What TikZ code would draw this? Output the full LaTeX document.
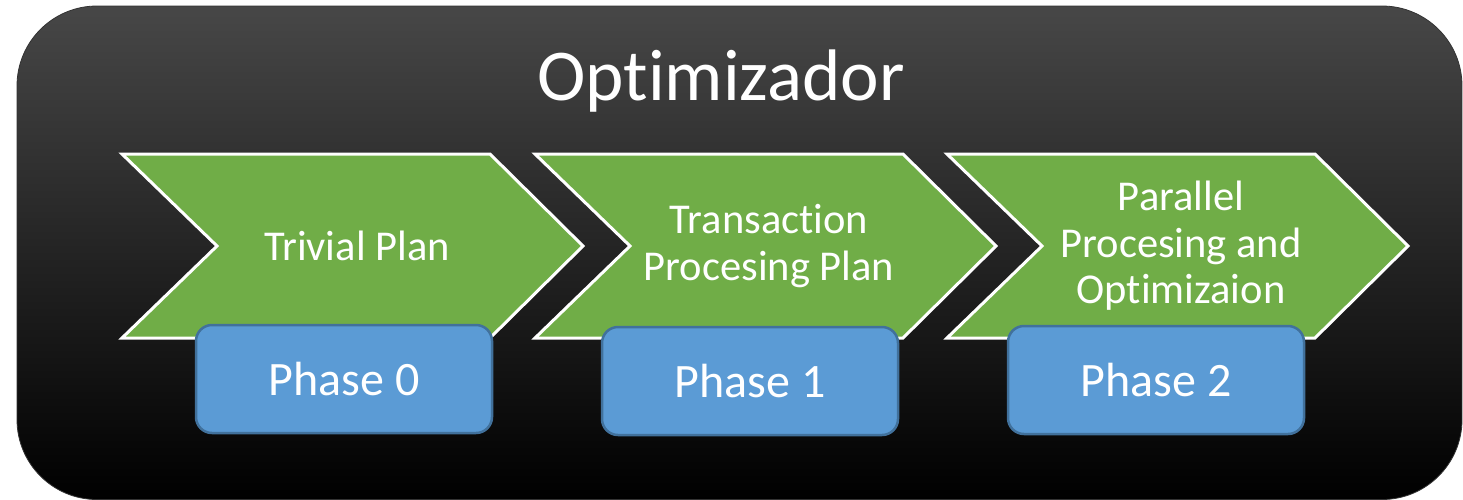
\documentclass[tikz,border=0pt]{standalone}
\usepackage{fontspec}
\setmainfont{Carlito}[Ligatures=NoCommon]
\definecolor{chevgreen}{HTML}{70AD47}
\definecolor{phaseblue}{HTML}{5B9BD5}
\definecolor{phaseedge}{HTML}{41719C}
\definecolor{paneltop}{HTML}{474747}
\begin{document}
\begin{tikzpicture}[x=1pt,y=-1pt,
  chevron/.style={fill=chevgreen,draw=white,line width=3pt,line join=miter},
  chevtext/.style={text=white,font=\fontsize{42.5}{46.5}\selectfont,align=center},
  phasebox/.style={fill=phaseblue,draw=phaseedge,line width=2.5pt,rounded corners=16pt,
    minimum width=296pt,minimum height=108pt,inner sep=0pt,text=white,
    font=\fontsize{48}{52}\selectfont},
  title/.style={text=white,font=\fontsize{73}{80}\selectfont}]
\useasboundingbox (0,0) rectangle (1463,499);
\fill[white] (0,0) rectangle (1463,499);
% dark panel with a soft gradient at the top
\path[draw=black!80,line width=0.8pt,rounded corners=80pt,
  top color=paneltop,middle color=black,bottom color=black]
  (17,6) rectangle (1462,499.5);
\node[title,anchor=base] (title) at (721,100) {Optimizador};
% process chevrons
\foreach \L/\n in {122/a,535/b,947/c}{
  \draw[chevron] (\L,154) -- ++(368,0) -- ++(93,92) -- ++(-93,92) -- ++(-368,0)
    -- ++(95,-92) -- cycle;
}
\node[chevtext] (t0) at (357,246) {Trivial Plan};
\node[chevtext] (t1) at (769,246) {Transaction\\Procesing Plan};
\node[chevtext] (t2) at (1181,246) {Parallel\\Procesing and\\Optimizaion};
% phase labels
\node[phasebox] (p0) at (344,379) {Phase 0};
\node[phasebox] (p1) at (750,381) {Phase 1};
\node[phasebox] (p2) at (1156,380) {Phase 2};
\end{tikzpicture}
\end{document}
